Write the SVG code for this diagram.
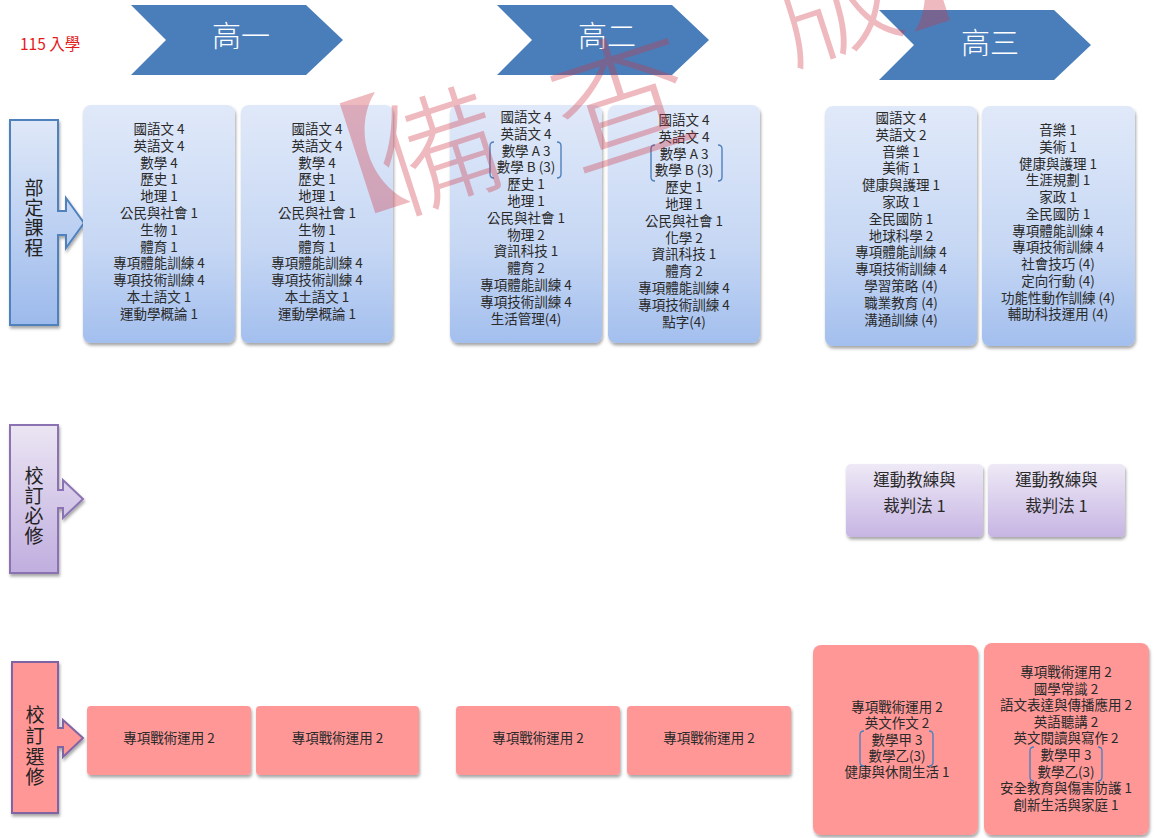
<svg xmlns="http://www.w3.org/2000/svg" width="1155" height="838" viewBox="0 0 1155 838">
<style>
.t{font-family:"Noto Sans CJK TC","Noto Sans",sans-serif;font-size:13.5px;fill:#2a2a2a;text-anchor:middle}
.big{font-size:16.5px}
.vl{font-family:"Noto Sans CJK TC","Noto Sans",sans-serif;font-size:19px;fill:#222;text-anchor:middle}
.hd{font-family:"Noto Sans CJK TC","Noto Sans",sans-serif;font-size:29px;font-weight:300;fill:#fff;text-anchor:middle}
.chev{fill:#4a7ebb}
.br{fill:none;stroke:#4f81bd;stroke-width:1.4}
.bluebox{fill:url(#gBlue)}
.purbox{fill:url(#gPur)}
.pinkbox{fill:#ff9797}
.wm{font-family:"Noto Sans CJK TC","Noto Sans",sans-serif;font-size:125px;font-weight:200;fill:#d0303f;opacity:0.33;text-anchor:middle;dominant-baseline:central}
</style>
<defs>
<linearGradient id="gBlue" x1="0" y1="0" x2="0" y2="1"><stop offset="0" stop-color="#e0e9f9"/><stop offset="0.6" stop-color="#c6d7f4"/><stop offset="1" stop-color="#a3bfee"/></linearGradient>
<linearGradient id="gBlueC" x1="0" y1="0" x2="0" y2="1"><stop offset="0" stop-color="#dfe8f8"/><stop offset="1" stop-color="#9cbaec"/></linearGradient>
<linearGradient id="gPur" x1="0" y1="0" x2="0" y2="1"><stop offset="0" stop-color="#eee9f6"/><stop offset="1" stop-color="#c6b5e3"/></linearGradient>
<linearGradient id="gPurC" x1="0" y1="0" x2="0" y2="1"><stop offset="0" stop-color="#ebe5f3"/><stop offset="1" stop-color="#c0aedf"/></linearGradient>
<filter id="sh" x="-10%" y="-10%" width="120%" height="125%"><feDropShadow dx="1" dy="2.5" stdDeviation="1.5" flood-color="#000" flood-opacity="0.35"/></filter>
</defs>

<text id="entry" x="20" y="50" style="font-family:'Noto Sans CJK TC','Noto Sans',sans-serif;font-size:15.5px;fill:#e31b1b">115 入學</text>

<g id="header1"><path class="chev" d="M131,5 H306 L343,40 L306,75 H131 L166,40 Z"/><text class="hd" x="241" y="47">高一</text></g>
<g id="header2"><path class="chev" d="M497,5 H672 L709,40 L672,75 H497 L532,40 Z"/><text class="hd" x="607" y="47">高二</text></g>
<g id="header3"><path class="chev" d="M879,10 H1054 L1091,45 L1054,80 H879 L914,45 Z"/><text class="hd" x="990" y="54">高三</text></g>

<g id="label-required">
<path d="M10,120 H58 V211 H66 V198 L84,223 L66,248 V235 H58 V325 H10 Z" fill="url(#gBlueC)" stroke="#4f81bd" stroke-width="2" filter="url(#sh)"/>
<text class="vl"><tspan x="34" y="195">部</tspan><tspan x="34" y="215">定</tspan><tspan x="34" y="235">課</tspan><tspan x="34" y="255">程</tspan></text>
</g>

<g id="box-g1a">
<rect class="bluebox" x="83" y="105" width="152" height="238" rx="8" filter="url(#sh)"/>
<text class="t"><tspan x="159" y="134">國語文 4</tspan><tspan x="159" dy="16.8">英語文 4</tspan><tspan x="159" dy="16.8">數學 4</tspan><tspan x="159" dy="16.8">歷史 1</tspan><tspan x="159" dy="16.8">地理 1</tspan><tspan x="159" dy="16.8">公民與社會 1</tspan><tspan x="159" dy="16.8">生物 1</tspan><tspan x="159" dy="16.8">體育 1</tspan><tspan x="159" dy="16.8">專項體能訓練 4</tspan><tspan x="159" dy="16.8">專項技術訓練 4</tspan><tspan x="159" dy="16.8">本土語文 1</tspan><tspan x="159" dy="16.8">運動學概論 1</tspan></text>
</g>
<g id="box-g1b">
<rect class="bluebox" x="241" y="105" width="152" height="238" rx="8" filter="url(#sh)"/>
<text class="t"><tspan x="317" y="134">國語文 4</tspan><tspan x="317" dy="16.8">英語文 4</tspan><tspan x="317" dy="16.8">數學 4</tspan><tspan x="317" dy="16.8">歷史 1</tspan><tspan x="317" dy="16.8">地理 1</tspan><tspan x="317" dy="16.8">公民與社會 1</tspan><tspan x="317" dy="16.8">生物 1</tspan><tspan x="317" dy="16.8">體育 1</tspan><tspan x="317" dy="16.8">專項體能訓練 4</tspan><tspan x="317" dy="16.8">專項技術訓練 4</tspan><tspan x="317" dy="16.8">本土語文 1</tspan><tspan x="317" dy="16.8">運動學概論 1</tspan></text>
</g>
<g id="box-g2a">
<rect class="bluebox" x="450" y="105" width="152" height="238" rx="8" filter="url(#sh)"/>
<text class="t"><tspan x="526" y="122">國語文 4</tspan><tspan x="526" dy="16.8">英語文 4</tspan><tspan x="526" dy="16.8">數學 A 3</tspan><tspan x="526" dy="16.8">數學 B (3)</tspan><tspan x="526" dy="16.8">歷史 1</tspan><tspan x="526" dy="16.8">地理 1</tspan><tspan x="526" dy="16.8">公民與社會 1</tspan><tspan x="526" dy="16.8">物理 2</tspan><tspan x="526" dy="16.8">資訊科技 1</tspan><tspan x="526" dy="16.8">體育 2</tspan><tspan x="526" dy="16.8">專項體能訓練 4</tspan><tspan x="526" dy="16.8">專項技術訓練 4</tspan><tspan x="526" dy="16.8">生活管理(4)</tspan></text>
<path class="br" d="M494,142 Q490,142 490,146 V174 Q490,178 494,178 M557,142 Q561,142 561,146 V174 Q561,178 557,178"/>
</g>
<g id="box-g2b">
<rect class="bluebox" x="608" y="105" width="152" height="238" rx="8" filter="url(#sh)"/>
<text class="t"><tspan x="684" y="125">國語文 4</tspan><tspan x="684" dy="16.8">英語文 4</tspan><tspan x="684" dy="16.8">數學 A 3</tspan><tspan x="684" dy="16.8">數學 B (3)</tspan><tspan x="684" dy="16.8">歷史 1</tspan><tspan x="684" dy="16.8">地理 1</tspan><tspan x="684" dy="16.8">公民與社會 1</tspan><tspan x="684" dy="16.8">化學 2</tspan><tspan x="684" dy="16.8">資訊科技 1</tspan><tspan x="684" dy="16.8">體育 2</tspan><tspan x="684" dy="16.8">專項體能訓練 4</tspan><tspan x="684" dy="16.8">專項技術訓練 4</tspan><tspan x="684" dy="16.8">點字(4)</tspan></text>
<path class="br" d="M655,145 Q651,145 651,149 V177 Q651,181 655,181 M718,145 Q722,145 722,149 V177 Q722,181 718,181"/>
</g>
<g id="box-g3a">
<rect class="bluebox" x="825" y="106" width="152" height="240" rx="8" filter="url(#sh)"/>
<text class="t"><tspan x="901" y="123">國語文 4</tspan><tspan x="901" dy="16.8">英語文 2</tspan><tspan x="901" dy="16.8">音樂 1</tspan><tspan x="901" dy="16.8">美術 1</tspan><tspan x="901" dy="16.8">健康與護理 1</tspan><tspan x="901" dy="16.8">家政 1</tspan><tspan x="901" dy="16.8">全民國防 1</tspan><tspan x="901" dy="16.8">地球科學 2</tspan><tspan x="901" dy="16.8">專項體能訓練 4</tspan><tspan x="901" dy="16.8">專項技術訓練 4</tspan><tspan x="901" dy="16.8">學習策略 (4)</tspan><tspan x="901" dy="16.8">職業教育 (4)</tspan><tspan x="901" dy="16.8">溝通訓練 (4)</tspan></text>
</g>
<g id="box-g3b">
<rect class="bluebox" x="982" y="106" width="153" height="240" rx="8" filter="url(#sh)"/>
<text class="t"><tspan x="1058" y="135">音樂 1</tspan><tspan x="1058" dy="16.75">美術 1</tspan><tspan x="1058" dy="16.75">健康與護理 1</tspan><tspan x="1058" dy="16.75">生涯規劃 1</tspan><tspan x="1058" dy="16.75">家政 1</tspan><tspan x="1058" dy="16.75">全民國防 1</tspan><tspan x="1058" dy="16.75">專項體能訓練 4</tspan><tspan x="1058" dy="16.75">專項技術訓練 4</tspan><tspan x="1058" dy="16.75">社會技巧 (4)</tspan><tspan x="1058" dy="16.75">定向行動 (4)</tspan><tspan x="1058" dy="16.75">功能性動作訓練 (4)</tspan><tspan x="1058" dy="16.75">輔助科技運用 (4)</tspan></text>
</g>

<g id="label-school-required">
<path d="M10,425 H58 V490 H63 V480 L83,499 L63,518 V508 H58 V573 H10 Z" fill="url(#gPurC)" stroke="#8b73b3" stroke-width="2" filter="url(#sh)"/>
<text class="vl"><tspan x="34" y="483">校</tspan><tspan x="34" y="503">訂</tspan><tspan x="34" y="523">必</tspan><tspan x="34" y="543">修</tspan></text>
</g>
<g id="box-req1">
<rect class="purbox" x="846" y="464" width="137" height="73" rx="5" filter="url(#sh)"/>
<text class="t big"><tspan x="914.5" y="486">運動教練與</tspan><tspan x="914.5" y="512">裁判法 1</tspan></text>
</g>
<g id="box-req2">
<rect class="purbox" x="988" y="464" width="137" height="73" rx="5" filter="url(#sh)"/>
<text class="t big"><tspan x="1056.5" y="486">運動教練與</tspan><tspan x="1056.5" y="512">裁判法 1</tspan></text>
</g>

<g id="label-school-elective">
<path d="M12,662 H58 V728 H63 V720 L83,738 L63,757 V747 H58 V813 H12 Z" fill="#ff9797" stroke="#8064a2" stroke-width="2" filter="url(#sh)"/>
<text class="vl"><tspan x="35" y="722">校</tspan><tspan x="35" y="743">訂</tspan><tspan x="35" y="764">選</tspan><tspan x="35" y="784">修</tspan></text>
</g>
<g id="box-el1"><rect class="pinkbox" x="87" y="706" width="164" height="69" rx="4" filter="url(#sh)"/><text class="t" x="169" y="743">專項戰術運用 2</text></g>
<g id="box-el2"><rect class="pinkbox" x="256" y="706" width="163" height="69" rx="4" filter="url(#sh)"/><text class="t" x="337.5" y="743">專項戰術運用 2</text></g>
<g id="box-el3"><rect class="pinkbox" x="456" y="706" width="164" height="69" rx="4" filter="url(#sh)"/><text class="t" x="538" y="743">專項戰術運用 2</text></g>
<g id="box-el4"><rect class="pinkbox" x="627" y="706" width="164" height="69" rx="4" filter="url(#sh)"/><text class="t" x="709" y="743">專項戰術運用 2</text></g>
<g id="box-el5">
<rect class="pinkbox" x="813" y="645" width="165" height="190" rx="8" filter="url(#sh)"/>
<text class="t"><tspan x="897" y="712">專項戰術運用 2</tspan><tspan x="897" dy="16.3">英文作文 2</tspan><tspan x="897" dy="16.3">數學甲 3</tspan><tspan x="897" dy="16.3">數學乙(3)</tspan><tspan x="897" dy="16.3">健康與休閒生活 1</tspan></text>
<path class="br" d="M864,731 Q860,731 860,735 V762 Q860,766 864,766 M929,731 Q933,731 933,735 V762 Q933,766 929,766"/>
</g>
<g id="box-el6">
<rect class="pinkbox" x="984" y="643" width="165" height="192" rx="8" filter="url(#sh)"/>
<text class="t"><tspan x="1066" y="677">專項戰術運用 2</tspan><tspan x="1066" dy="16.6">國學常識 2</tspan><tspan x="1066" dy="16.6">語文表達與傳播應用 2</tspan><tspan x="1066" dy="16.6">英語聽講 2</tspan><tspan x="1066" dy="16.6">英文閱讀與寫作 2</tspan><tspan x="1066" dy="16.6">數學甲 3</tspan><tspan x="1066" dy="16.6">數學乙(3)</tspan><tspan x="1066" dy="16.6">安全教育與傷害防護 1</tspan><tspan x="1066" dy="16.6">創新生活與家庭 1</tspan></text>
<path class="br" d="M1034,747 Q1030,747 1030,751 V777 Q1030,781 1034,781 M1098,747 Q1102,747 1102,751 V777 Q1102,781 1098,781"/>
</g>

<g id="connectors"></g>

<g id="watermark">
<text class="wm" x="335" y="158" transform="rotate(-18 335 158)">【</text>
<text class="wm" x="437" y="143" transform="rotate(-18 437 143)">備</text>
<text class="wm" x="620" y="92" transform="rotate(-18 620 92)" style="font-size:140px">查</text>
<text class="wm" x="832" y="-8" transform="rotate(-18 832 -8)">版</text>
<text class="wm" x="950" y="-48" transform="rotate(-18 950 -48)">】</text>
</g>
</svg>
